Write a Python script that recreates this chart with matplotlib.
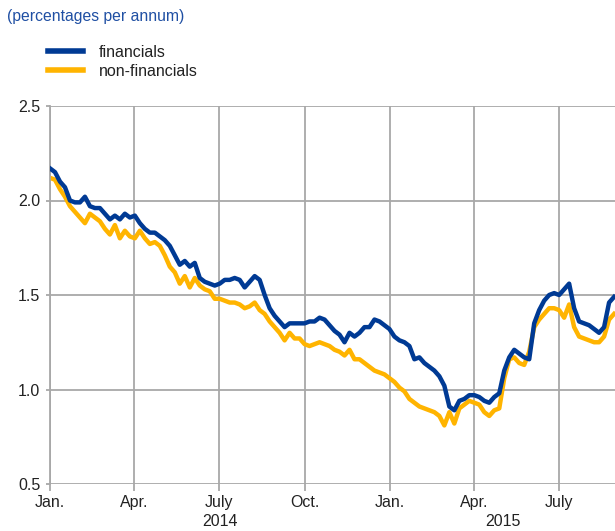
import numpy as np
import pandas as pd
import matplotlib
matplotlib.use('Agg')
import matplotlib.pyplot as plt
import matplotlib.dates as mdates

plt.rcParams['font.family'] = ['Liberation Sans', 'DejaVu Sans']

financials = [2.17, 2.15, 2.10, 2.07, 2.00, 1.99, 1.99, 2.02, 1.97, 1.96,
              1.96, 1.93, 1.90, 1.92, 1.90, 1.93, 1.91, 1.92, 1.88, 1.85,
              1.83, 1.83, 1.81, 1.79, 1.76, 1.71, 1.66, 1.68, 1.65, 1.67,
              1.59, 1.57, 1.56, 1.55, 1.56, 1.58, 1.58, 1.59, 1.58, 1.54,
              1.57, 1.60, 1.58, 1.50, 1.43, 1.39, 1.36, 1.33, 1.35, 1.35,
              1.35, 1.35, 1.36, 1.36, 1.38, 1.37, 1.34, 1.31, 1.29, 1.25,
              1.30, 1.28, 1.30, 1.33, 1.33, 1.37, 1.36, 1.34, 1.32, 1.28,
              1.26, 1.25, 1.23, 1.16, 1.17, 1.14, 1.12, 1.10, 1.07, 1.02,
              0.91, 0.89, 0.94, 0.95, 0.97, 0.97, 0.96, 0.94, 0.93, 0.96,
              0.98, 1.10, 1.17, 1.21, 1.19, 1.17, 1.16, 1.35, 1.42, 1.47,
              1.50, 1.51, 1.50, 1.53, 1.56, 1.43, 1.36, 1.35, 1.34, 1.32,
              1.30, 1.33, 1.46, 1.49]
non_financials = [2.12, 2.11, 2.06, 2.02, 1.97, 1.94, 1.91, 1.88, 1.93, 1.91,
                  1.89, 1.85, 1.82, 1.87, 1.80, 1.84, 1.81, 1.80, 1.84, 1.80,
                  1.77, 1.78, 1.76, 1.71, 1.65, 1.62, 1.56, 1.60, 1.54, 1.59,
                  1.55, 1.53, 1.52, 1.48, 1.48, 1.47, 1.46, 1.46, 1.45, 1.43,
                  1.44, 1.46, 1.42, 1.40, 1.36, 1.33, 1.30, 1.26, 1.30, 1.27,
                  1.27, 1.24, 1.23, 1.24, 1.25, 1.24, 1.23, 1.21, 1.20, 1.18,
                  1.21, 1.16, 1.16, 1.14, 1.12, 1.10, 1.09, 1.08, 1.06, 1.04,
                  1.01, 0.99, 0.95, 0.93, 0.91, 0.90, 0.89, 0.88, 0.86, 0.81,
                  0.88, 0.82, 0.90, 0.92, 0.94, 0.93, 0.92, 0.88, 0.86, 0.89,
                  0.90, 1.06, 1.16, 1.17, 1.14, 1.13, 1.20, 1.33, 1.37, 1.40,
                  1.43, 1.43, 1.42, 1.38, 1.45, 1.33, 1.28, 1.27, 1.26, 1.25,
                  1.25, 1.28, 1.37, 1.40]
dates = pd.date_range('2014-01-01', '2015-08-29', periods=len(financials))

month_ticks = pd.to_datetime(['2014-01-01', '2014-04-01', '2014-07-01', '2014-10-01',
                              '2015-01-01', '2015-04-01', '2015-07-01'])
month_labels = ['Jan.', 'Apr.', 'July', 'Oct.', 'Jan.', 'Apr.', 'July']
x_start = pd.Timestamp('2014-01-01')
x_end = pd.Timestamp('2015-08-30')

blue = '#003A94'
yellow = '#FFB400'
grid_c = '#A8A8A8'
txt_c = '#222222'

fig = plt.figure(figsize=(6.15, 5.31), dpi=100)
ax = fig.add_axes([50/615, 1-484/531, 1-50/615, (484-106)/531])

ax.plot(dates, financials, color=blue, lw=3.2, label='financials',
        solid_joinstyle='round', zorder=3)
ax.plot(dates, non_financials, color=yellow, lw=3.2, label='non-financials',
        solid_joinstyle='round', zorder=2)

ax.set_xlim(x_start, x_end)
ax.set_ylim(0.5, 2.5)
ax.set_yticks([0.5, 1.0, 1.5, 2.0, 2.5])
ax.set_yticklabels(['0.5', '1.0', '1.5', '2.0', '2.5'])
ax.set_xticks(month_ticks)
ax.set_xticklabels(month_labels)
ax.grid(True, color=grid_c, lw=1.3)
ax.set_axisbelow(True)
for s in ['top', 'right', 'bottom']:
    ax.spines[s].set_visible(False)
ax.spines['left'].set_color(grid_c)
ax.spines['left'].set_linewidth(1.3)
ax.tick_params(axis='x', length=5, width=1.3, color=grid_c, pad=3, labelsize=11.5, labelcolor=txt_c)
ax.tick_params(axis='y', length=3, width=1.3, color=grid_c, pad=4, labelsize=11.5, labelcolor=txt_c)

# year labels centred on the visible part of each year
for yr_start, yr_end, lab in [(x_start, pd.Timestamp('2015-01-01'), '2014'),
                              (pd.Timestamp('2015-01-01'), x_end, '2015')]:
    mid = yr_start + (yr_end - yr_start) / 2
    ax.annotate(lab, xy=(mdates.date2num(mid), 0), xycoords=('data', 'axes fraction'),
                xytext=(0, -27), textcoords='offset points', ha='center', va='center',
                fontsize=11.5, color=txt_c)

fig.text(7/615, 1-17/531, '(percentages per annum)', color='#1F4FA3', fontsize=11.3,
         ha='left', va='center')

fig.legend(loc='upper left', bbox_to_anchor=(48/615, 1-45/531), frameon=False,
           fontsize=11.5, handlelength=2.2, handletextpad=1.0, labelspacing=0.25,
           borderpad=0, borderaxespad=0)
for t in fig.legends[0].get_texts():
    t.set_color(txt_c)
for h in fig.legends[0].legend_handles:
    h.set_linewidth(4)

fig.savefig('out.png', dpi=100)
